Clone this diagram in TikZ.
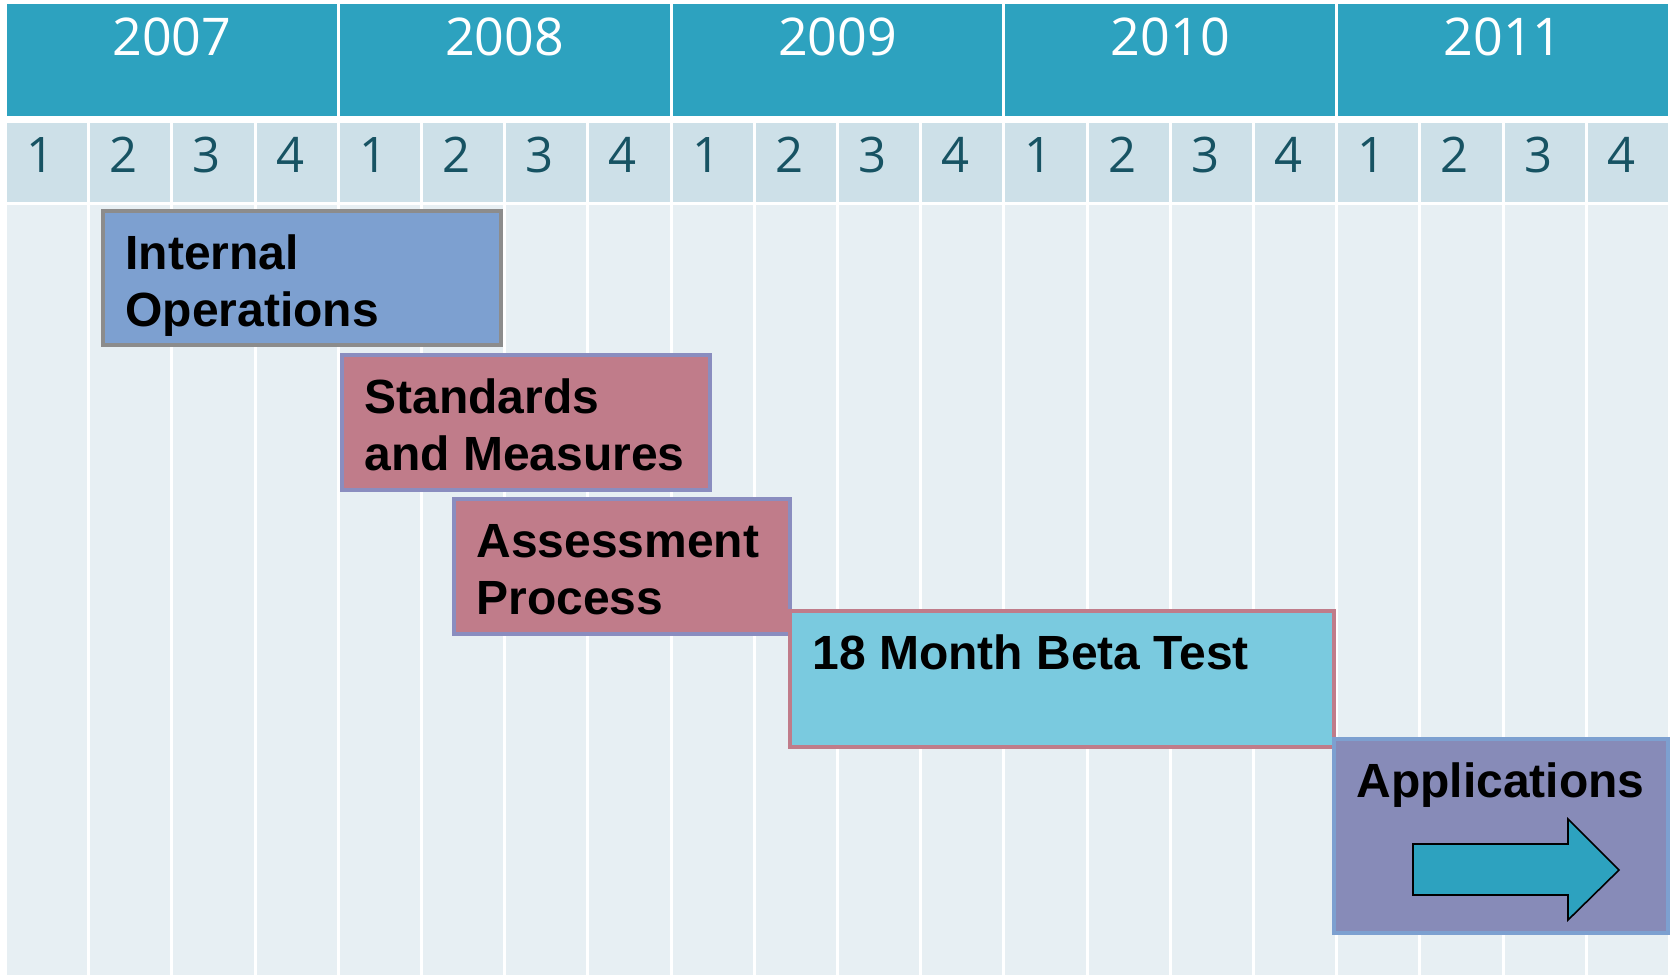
\documentclass[tikz,border=0pt]{standalone}
\usepackage{fontspec}
\setmainfont{Liberation Sans}
\newfontfamily\numfont{Open Sans}
\definecolor{hdr}{HTML}{2DA2BF}
\definecolor{qcell}{HTML}{CDE0E8}
\definecolor{bodycell}{HTML}{E7EFF3}
\definecolor{qtext}{HTML}{175363}
\definecolor{iofill}{HTML}{7DA0D0}
\definecolor{iodraw}{HTML}{8C8C8C}
\definecolor{rosefill}{HTML}{C07C8A}
\definecolor{rosedraw}{HTML}{8A8DBF}
\definecolor{betafill}{HTML}{7ACADF}
\definecolor{appfill}{HTML}{878BB8}
\tikzset{
  yearlbl/.style={anchor=base, inner sep=0pt, text=white, font=\numfont\fontsize{26}{30}\selectfont},
  qlbl/.style={anchor=base west, inner sep=0pt, text=qtext, font=\numfont\fontsize{24.5}{28}\selectfont},
  phase/.style={rectangle, anchor=north west, inner sep=0pt, outer sep=0pt, line width=2pt},
  boxtxt/.style={anchor=base west, inner sep=0pt, font=\bfseries\fontsize{24}{28}\selectfont},
}
\begin{document}
\begin{tikzpicture}[x=0.5pt,y=-0.5pt]
\useasboundingbox (0,0) rectangle (1672,975);
\fill[white] (0,0) rectangle (1672,975);
% year header
\foreach \yr [count=\k from 0] in {2007,2008,2009,2010,2011} {
  \pgfmathsetmacro\xa{7+332.8*\k}
  \pgfmathsetmacro\xb{\xa+329.8}
  \pgfmathsetmacro\xc{\xa+164.9}
  \fill[hdr] (\xa,4) rectangle (\xb,116);
  \node[yearlbl] (y\yr) at (\xc,55) {\yr};
}
% quarters and body columns
\foreach \q in {0,...,19} {
  \pgfmathsetmacro\xa{7+83.2*\q}
  \pgfmathsetmacro\xb{\xa+80.2}
  \pgfmathsetmacro\xt{\xa+19}
  \pgfmathtruncatemacro\n{mod(\q,4)+1}
  \fill[qcell] (\xa,123) rectangle (\xb,202);
  \fill[bodycell] (\xa,205) rectangle (\xb,975);
  \node[qlbl] (q\q) at (\xt,172) {\n};
}
% phases
\node[phase, draw=iodraw, fill=iofill, minimum width=199pt, minimum height=67pt] (io) at (103,211) {};
\node[boxtxt] (io1) at ([xshift=11pt,yshift=-29pt]io.north west) {Internal};
\node[boxtxt] (io2) at ([xshift=11pt,yshift=-57.75pt]io.north west) {Operations};

\node[phase, draw=rosedraw, fill=rosefill, minimum width=184pt, minimum height=67.5pt] (sm) at (342,355) {};
\node[boxtxt] (sm1) at ([xshift=11pt,yshift=-29pt]sm.north west) {Standards};
\node[boxtxt] (sm2) at ([xshift=11pt,yshift=-57.75pt]sm.north west) {and Measures};

\node[phase, draw=rosedraw, fill=rosefill, minimum width=168pt, minimum height=67.5pt] (ap) at (454,499) {};
\node[boxtxt] (ap1) at ([xshift=11pt,yshift=-29pt]ap.north west) {Assessment};
\node[boxtxt] (ap2) at ([xshift=11pt,yshift=-57.75pt]ap.north west) {Process};

\node[phase, draw=rosefill, fill=betafill, minimum width=272pt, minimum height=68pt] (bt) at (790,611) {};
\node[boxtxt] (bt1) at ([xshift=11pt,yshift=-29pt]bt.north west) {18 Month Beta Test};

\node[phase, draw=iofill, fill=appfill, minimum width=167pt, minimum height=97pt] (apps) at (1334,739) {};
\node[boxtxt] (apps1) at ([xshift=11pt,yshift=-29pt]apps.north west) {Applications};

% arrow
\draw[fill=hdr, line width=0.8pt, line join=miter]
  (1413,844) -- (1568,844) -- (1568,819) -- (1619,870) -- (1568,920) -- (1568,895) -- (1413,895) -- cycle;
\end{tikzpicture}
\end{document}
